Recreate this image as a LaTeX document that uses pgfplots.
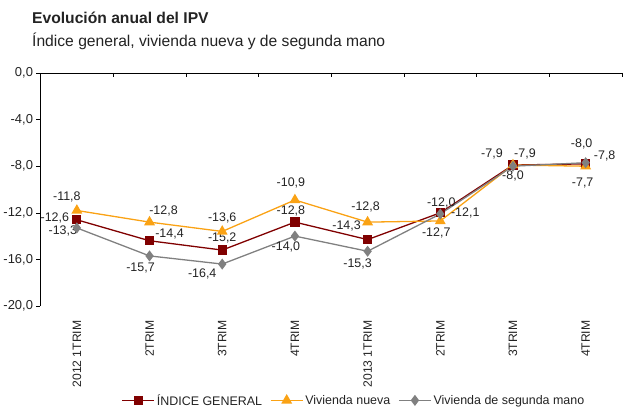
\documentclass[border=0pt]{standalone}
\usepackage{pgfplots}
\pgfplotsset{compat=1.18}
\usepackage{fontspec}
\setmainfont{Liberation Sans}
\definecolor{cgen}{RGB}{128,0,0}
\definecolor{cnue}{RGB}{250,162,20}
\definecolor{cseg}{RGB}{128,128,128}
\definecolor{ctxt}{RGB}{35,35,35}
\newcommand{\fs}{\fontsize{12.5}{14}\selectfont}
\newcommand{\fy}{\fontsize{13}{15}\selectfont}
\newcommand{\fx}{\fontsize{12.2}{14}\selectfont}
\begin{document}
\begin{tikzpicture}
\useasboundingbox (0,0) rectangle (630bp,420bp);
\node[anchor=base west, font=\bfseries\fontsize{15.7}{18}\selectfont, text=ctxt, inner sep=0] at (32bp,396bp) {Evolución anual del IPV};
\node[anchor=base west, font=\fontsize{15.7}{18}\selectfont, text=ctxt, inner sep=0] at (32bp,373bp) {Índice general, vivienda nueva y de segunda mano};
\begin{axis}[
  at={(40.5bp,114bp)}, anchor=south west,
  scale only axis, width=581.5bp, height=233bp,
  xmin=-0.5, xmax=7.5, ymin=-20, ymax=0,
  axis y line=left, axis x line=bottom,
  axis line style={-},
  x axis line style={draw=none},
  xtick=data,
  xticklabels={2012 1TRIM,2TRIM,3TRIM,4TRIM,2013 1TRIM,2TRIM,3TRIM,4TRIM},
  xticklabel style={rotate=90, anchor=east, font=\fx, text=ctxt, xshift=-7bp},
  x tick style={draw=none},
  ytick={0,-4,-8,-12,-16,-20},
  yticklabel style={font=\fy, text=ctxt},
  y tick style={black},
  tick align=outside, major tick length=4bp,
  /pgf/number format/.cd, fixed, fixed zerofill, precision=1, use comma, assume math mode=true,
  /pgfplots/.cd,
  clip=false,
  legend columns=3,
  legend style={at={(axis description cs:0.539,-0.405)}, anchor=center, draw=none, font=\fs, text=ctxt,
    /tikz/every even column/.append style={column sep=6bp}},
  legend image code/.code={\draw[mark repeat=2,mark phase=2] plot coordinates {(0bp,0bp) (16bp,0bp) (32bp,0bp)};},
]
\draw[black] (axis cs:-0.5,0) -- (axis cs:7.5,0);
\pgfplotsinvokeforeach{0.5,1.5,2.5,3.5,4.5,5.5,6.5,7.5}{\draw[black] (axis cs:#1,0) -- ([yshift=-4bp]axis cs:#1,0);}
\addplot[color=cgen, line width=1.3pt, mark=square*, mark size=4bp, mark options={fill=cgen}]
  coordinates {(0,-12.6) (1,-14.4) (2,-15.2) (3,-12.8) (4,-14.3) (5,-12.0) (6,-7.9) (7,-7.8)};
\addlegendentry{ÍNDICE GENERAL}
\addplot[color=cnue, line width=1.3pt, mark=triangle*, mark size=5bp, mark options={fill=cnue}]
  coordinates {(0,-11.8) (1,-12.8) (2,-13.6) (3,-10.9) (4,-12.8) (5,-12.7) (6,-7.9) (7,-8.0)};
\addlegendentry{Vivienda nueva}
\addplot[color=cseg, line width=1.3pt, mark=diamond*, mark size=4.5bp, mark options={fill=cseg}]
  coordinates {(0,-13.3) (1,-15.7) (2,-16.4) (3,-14.0) (4,-15.3) (5,-12.1) (6,-8.0) (7,-7.7)};
\addlegendentry{Vivienda de segunda mano}
% data labels
\begin{scope}[every node/.style={font=\fs, text=ctxt, inner sep=0}]
% general
\node[xshift=-22bp,yshift=2bp] at (axis cs:0,-12.6) {-12,6};
\node[xshift=20bp,yshift=7bp] at (axis cs:1,-14.4) {-14,4};
\node[xshift=0bp,yshift=12bp] at (axis cs:2,-15.2) {-15,2};
\node[xshift=-4bp,yshift=11bp] at (axis cs:3,-12.8) {-12,8};
\node[xshift=-21bp,yshift=14bp] at (axis cs:4,-14.3) {-14,3};
\node[xshift=1bp,yshift=10bp] at (axis cs:5,-12.0) {-12,0};
\node[xshift=-21bp,yshift=11bp] at (axis cs:6,-7.9) {-7,9};
\node[xshift=19bp,yshift=8bp] at (axis cs:7,-7.8) {-7,8};
% nueva
\node[xshift=-10bp,yshift=14bp] at (axis cs:0,-11.8) {-11,8};
\node[xshift=14bp,yshift=11bp] at (axis cs:1,-12.8) {-12,8};
\node[xshift=0bp,yshift=13bp] at (axis cs:2,-13.6) {-13,6};
\node[xshift=-4bp,yshift=17bp] at (axis cs:3,-10.9) {-10,9};
\node[xshift=-2bp,yshift=15bp] at (axis cs:4,-12.8) {-12,8};
\node[xshift=-4bp,yshift=-12bp] at (axis cs:5,-12.7) {-12,7};
\node[xshift=12bp,yshift=11bp] at (axis cs:6,-7.9) {-7,9};
\node[xshift=-4bp,yshift=22bp] at (axis cs:7,-8.0) {-8,0};
% segunda
\node[xshift=-14bp,yshift=-3bp] at (axis cs:0,-13.3) {-13,3};
\node[xshift=-9bp,yshift=-12bp] at (axis cs:1,-15.7) {-15,7};
\node[xshift=-20bp,yshift=-10bp] at (axis cs:2,-16.4) {-16,4};
\node[xshift=-9bp,yshift=-11bp] at (axis cs:3,-14.0) {-14,0};
\node[xshift=-10bp,yshift=-13bp] at (axis cs:4,-15.3) {-15,3};
\node[xshift=25bp,yshift=1bp] at (axis cs:5,-12.1) {-12,1};
\node[xshift=0bp,yshift=-10bp] at (axis cs:6,-8.0) {-8,0};
\node[xshift=-3bp,yshift=-20bp] at (axis cs:7,-7.7) {-7,7};
\end{scope}
\end{axis}
\end{tikzpicture}
\end{document}
